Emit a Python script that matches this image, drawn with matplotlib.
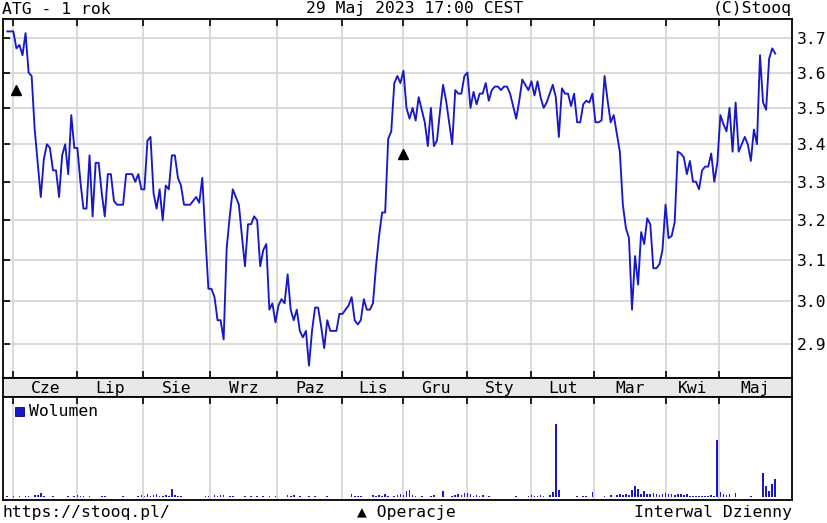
import numpy as np
import matplotlib.pyplot as plt
from matplotlib.ticker import FixedLocator, NullLocator, FormatStrFormatter
from matplotlib.patches import Rectangle

plt.rcParams['font.family'] = ['DejaVu Sans Mono', 'DejaVu Sans']

# daily close, ATG, 30 May 2022 - 29 May 2023
close = [
    3.72, 3.72, 3.72, 3.67, 3.68, 3.65, 3.715, 3.60, 3.59, 3.44,
    3.35, 3.26, 3.36, 3.40, 3.39, 3.33, 3.33, 3.26, 3.37, 3.40,
    3.32, 3.48, 3.39, 3.39, 3.30, 3.23, 3.23, 3.37, 3.21, 3.35,
    3.35, 3.27, 3.21, 3.32, 3.32, 3.25, 3.24, 3.24, 3.24, 3.32,
    3.32, 3.32, 3.30, 3.32, 3.28, 3.28, 3.41, 3.42, 3.27, 3.23,
    3.28, 3.20, 3.29, 3.28, 3.37, 3.37, 3.31, 3.29, 3.24, 3.24,
    3.24, 3.25, 3.26, 3.245, 3.31, 3.16, 3.03, 3.03, 3.01, 2.955,
    2.955, 2.91, 3.13, 3.21, 3.28, 3.26, 3.24, 3.16, 3.085, 3.19,
    3.19, 3.21, 3.20, 3.085, 3.125, 3.14, 2.98, 2.995, 2.95, 2.99,
    3.005, 2.995, 3.065, 2.98, 2.955, 2.98, 2.93, 2.915, 2.93, 2.85,
    2.93, 2.985, 2.985, 2.94, 2.89, 2.955, 2.93, 2.93, 2.93, 2.97,
    2.97, 2.98, 2.99, 3.01, 2.955, 2.945, 2.955, 3.005, 2.98, 2.98,
    2.995, 3.085, 3.16, 3.22, 3.22, 3.415, 3.435, 3.57, 3.59, 3.57,
    3.605, 3.50, 3.47, 3.50, 3.465, 3.53, 3.495, 3.46, 3.395, 3.50,
    3.395, 3.41, 3.49, 3.565, 3.52, 3.46, 3.40, 3.55, 3.54, 3.54,
    3.59, 3.60, 3.50, 3.545, 3.51, 3.54, 3.54, 3.57, 3.52, 3.55,
    3.56, 3.56, 3.55, 3.56, 3.56, 3.54, 3.505, 3.47, 3.52, 3.58,
    3.565, 3.55, 3.575, 3.535, 3.575, 3.53, 3.50, 3.515, 3.54, 3.565,
    3.53, 3.42, 3.555, 3.54, 3.54, 3.505, 3.54, 3.46, 3.46, 3.51,
    3.52, 3.515, 3.54, 3.46, 3.46, 3.465, 3.59, 3.52, 3.46, 3.48,
    3.43, 3.38, 3.24, 3.18, 3.155, 2.98, 3.11, 3.04, 3.17, 3.14,
    3.205, 3.19, 3.08, 3.08, 3.09, 3.125, 3.24, 3.155, 3.16, 3.195,
    3.38, 3.375, 3.365, 3.32, 3.355, 3.30, 3.30, 3.28, 3.33, 3.34,
    3.34, 3.375, 3.30, 3.35, 3.48, 3.455, 3.435, 3.50, 3.38, 3.515,
    3.38, 3.40, 3.42, 3.40, 3.355, 3.44, 3.40, 3.65, 3.515, 3.495,
    3.64, 3.67, 3.655,
]

volume = [
    1, 0, 1, 0, 1, 0, 1, 1, 0, 2,
    2, 4, 1, 0, 0, 1, 0, 0, 0, 0,
    1, 0, 1, 2, 1, 1, 0, 1, 0, 0,
    0, 1, 1, 0, 0, 0, 0, 0, 1, 0,
    0, 0, 0, 1, 2, 1, 3, 1, 2, 3,
    1, 1, 2, 1, 8, 2, 1, 1, 0, 0,
    0, 0, 0, 0, 0, 1, 1, 0, 2, 1,
    2, 2, 0, 1, 1, 0, 0, 0, 1, 0,
    1, 0, 1, 0, 1, 0, 1, 0, 1, 0,
    0, 0, 2, 1, 2, 0, 1, 0, 0, 1,
    0, 1, 0, 0, 0, 1, 0, 0, 0, 0,
    0, 0, 0, 3, 1, 1, 1, 0, 0, 0,
    2, 1, 2, 1, 3, 1, 0, 1, 2, 3,
    2, 6, 7, 2, 1, 0, 1, 0, 0, 1,
    2, 0, 0, 6, 0, 0, 1, 2, 3, 2,
    4, 4, 3, 1, 2, 1, 2, 0, 1, 0,
    0, 0, 0, 0, 0, 0, 0, 1, 0, 0,
    0, 1, 2, 1, 1, 2, 1, 0, 2, 5,
    73, 7, 0, 0, 0, 0, 0, 1, 0, 1,
    1, 0, 5, 0, 0, 0, 1, 0, 2, 0,
    2, 3, 2, 3, 2, 7, 11, 8, 3, 6,
    3, 3, 4, 3, 2, 3, 4, 3, 3, 2,
    3, 3, 2, 3, 1, 1, 1, 1, 1, 1,
    1, 2, 1, 57, 5, 3, 2, 3, 0, 4,
    0, 0, 0, 0, 1, 0, 0, 0, 24, 11,
    6, 13, 18,
]

months = ['Cze', 'Lip', 'Sie', 'Wrz', 'Paz', 'Lis', 'Gru', 'Sty', 'Lut', 'Mar', 'Kwi', 'Maj']
month_starts = [2, 23, 44.5, 66.5, 88.5, 110, 130, 151, 172, 192.5, 216, 233.5]
price_ticks = [2.9, 3.0, 3.1, 3.2, 3.3, 3.4, 3.5, 3.6, 3.7]
op_days = [3, 130]
op_levels = [3.55, 3.375]

W, H = 828, 523
BLUE = '#1818c8'
GRID = '#d4d4d4'
FS = 11.8
X0, X1 = -1.4, 257.5


def box(x0, y0, x1, y1):
    return [x0 / W, 1 - y1 / H, (x1 - x0) / W, (y1 - y0) / H]


fig = plt.figure(figsize=(W / 100, H / 100), dpi=100)
ax = fig.add_axes(box(3, 19, 792, 378))
band = fig.add_axes(box(3, 378, 792, 397))
vax = fig.add_axes(box(3, 397, 792, 500))

days = np.arange(len(close))

# price panel
ax.plot(days, close, color=BLUE, lw=1.35, zorder=3)
ax.plot(op_days, op_levels, '^', color='black', ms=7, zorder=4)
ax.set_yscale('log')
ax.set_ylim(2.822, 3.757)
ax.set_xlim(X0, X1)
ax.yaxis.set_major_locator(FixedLocator(price_ticks))
ax.yaxis.set_minor_locator(NullLocator())
ax.yaxis.set_major_formatter(FormatStrFormatter('%.1f'))
ax.set_xticks(month_starts)
ax.xaxis.set_minor_locator(NullLocator())
ax.grid(True, color=GRID, lw=1.2)
ax.set_axisbelow(True)
ax.tick_params(axis='x', direction='in', length=5, width=1.2, top=True, bottom=True,
               labelbottom=False)
ax.tick_params(axis='y', which='both', direction='in', length=5, width=1.2, left=True,
               right=False, labelleft=False, labelright=True, labelsize=FS, pad=3.5)

# month band
band.set_facecolor('#e8e8e8')
band.set_xlim(X0, X1)
band.set_ylim(0, 1)
band.set_xticks([])
band.set_yticks([])
edges = month_starts + [X1]
for i, name in enumerate(months):
    band.text((edges[i] + edges[i + 1]) / 2, 0.45, name, ha='center', va='center', fontsize=FS)

# volume panel
vax.bar(days, volume, width=0.55, color=BLUE, lw=0, zorder=3)
vax.set_xlim(X0, X1)
vax.set_ylim(-3, 100)
vax.set_xticks(month_starts)
vax.set_yticks([])
vax.grid(True, axis='x', color=GRID, lw=1.2)
vax.set_axisbelow(True)
vax.tick_params(axis='x', direction='in', length=5, width=1.2, top=True, bottom=False,
                labelbottom=False)
vax.add_patch(Rectangle((12 / 789, 1 - 19 / 103), 9 / 789, 9 / 103, transform=vax.transAxes,
                        facecolor=BLUE, edgecolor='#000080', lw=0.6, zorder=5))
vax.text(26 / 789, 1 - 14 / 103, 'Wolumen', transform=vax.transAxes, ha='left', va='center',
         fontsize=FS)

for a in (ax, band, vax):
    for s in a.spines.values():
        s.set_linewidth(1.3)

# header / footer
fig.text(2 / W, 1 - 9 / H, 'ATG - 1 rok', ha='left', va='center', fontsize=FS)
fig.text(415 / W, 1 - 9 / H, '29 Maj 2023 17:00 CEST', ha='center', va='center', fontsize=FS)
fig.text(792 / W, 1 - 9 / H, '(C)Stooq', ha='right', va='center', fontsize=FS)
fig.text(3 / W, 1 - 512 / H, 'https://stooq.pl/', ha='left', va='center', fontsize=FS)
fig.text(357 / W, 1 - 512 / H, '▲ Operacje', ha='left', va='center', fontsize=FS)
fig.text(792 / W, 1 - 512 / H, 'Interwal Dzienny', ha='right', va='center', fontsize=FS)

fig.savefig('out.png', dpi=100, facecolor='white')
